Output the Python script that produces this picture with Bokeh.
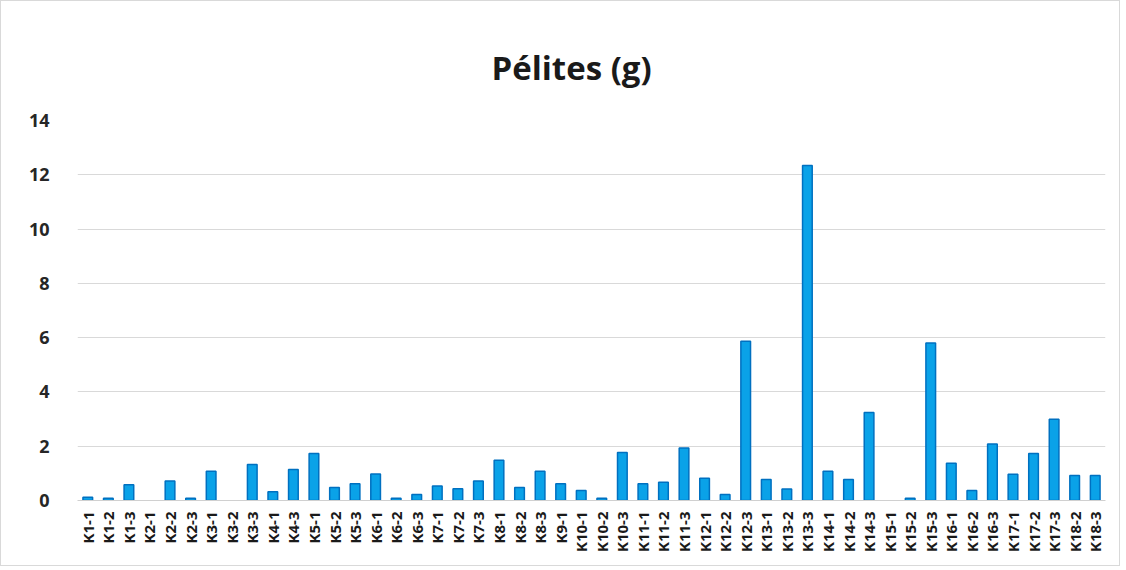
import math
from bokeh.plotting import figure
from bokeh.models import FactorRange, Range1d, FixedTicker, ColumnDataSource
from bokeh.embed import file_html
from bokeh.resources import INLINE

samples = ["K1-1", "K1-2", "K1-3", "K2-1", "K2-2", "K2-3", "K3-1", "K3-2", "K3-3",
           "K4-1", "K4-3", "K5-1", "K5-2", "K5-3", "K6-1", "K6-2", "K6-3",
           "K7-1", "K7-2", "K7-3", "K8-1", "K8-2", "K8-3", "K9-1",
           "K10-1", "K10-2", "K10-3", "K11-1", "K11-2", "K11-3", "K12-1", "K12-2", "K12-3",
           "K13-1", "K13-2", "K13-3", "K14-1", "K14-2", "K14-3", "K15-1", "K15-2", "K15-3",
           "K16-1", "K16-2", "K16-3", "K17-1", "K17-2", "K17-3", "K18-2", "K18-3"]
pelites = [0.12, 0.08, 0.58, 0.0, 0.72, 0.08, 1.08, 0.0, 1.33,
           0.32, 1.14, 1.73, 0.48, 0.62, 0.98, 0.08, 0.22,
           0.53, 0.43, 0.72, 1.48, 0.48, 1.08, 0.62,
           0.37, 0.08, 1.77, 0.62, 0.67, 1.93, 0.82, 0.22, 5.87,
           0.77, 0.42, 12.34, 1.08, 0.77, 3.24, 0.0, 0.08, 5.80,
           1.37, 0.37, 2.08, 0.97, 1.73, 2.99, 0.92, 0.92]
y_ticks = [0, 2, 4, 6, 8, 10, 12, 14]

nz = [(s, v) for s, v in zip(samples, pelites) if v > 0]
source = ColumnDataSource(data=dict(x=[s for s, _ in nz], y=[v for _, v in nz]))

p = figure(x_range=FactorRange(factors=samples, range_padding=0),
           y_range=Range1d(0, 14),
           width=1120, height=566,
           output_backend="svg", toolbar_location=None,
           title="Pélites (g)",
           min_border_left=76, min_border_right=16, min_border_top=119, min_border_bottom=67)

p.vbar(x="x", top="y", width=0.47, source=source,
       fill_color="#0AA2E8", line_color="#0070C0", line_width=1.5)

p.title.align = "left"
p.title.offset = 414
p.title.text_font = "Open Sans"
p.title.text_font_style = "bold"
p.title.text_font_size = "33px"
p.title.text_color = "#1a1a1a"
p.title.standoff = 61

p.outline_line_color = None
p.styles = {"border": "1px solid #d9d9d9"}

p.yaxis.ticker = FixedTicker(ticks=y_ticks)
p.yaxis.axis_line_color = None
p.yaxis.major_tick_line_color = None
p.yaxis.minor_tick_line_color = None
p.yaxis.major_label_text_font = "Open Sans"
p.yaxis.major_label_text_font_style = "bold"
p.yaxis.major_label_text_font_size = "18px"
p.yaxis.major_label_text_color = "#262626"
p.yaxis.major_label_standoff = 22

p.xaxis.axis_line_color = "#d0d0d0"
p.xaxis.major_tick_line_color = None
p.xaxis.minor_tick_line_color = None
p.xaxis.major_label_orientation = math.pi / 2
p.xaxis.major_label_text_font = "Open Sans"
p.xaxis.major_label_text_font_style = "bold"
p.xaxis.major_label_text_font_size = "15px"
p.xaxis.major_label_text_color = "#1a1a1a"
p.xaxis.major_label_standoff = 5

p.xgrid.grid_line_color = None
p.ygrid.grid_line_color = "#d9d9d9"
p.ygrid.grid_line_width = 1

open("out.html", "w").write(file_html(p, INLINE))
